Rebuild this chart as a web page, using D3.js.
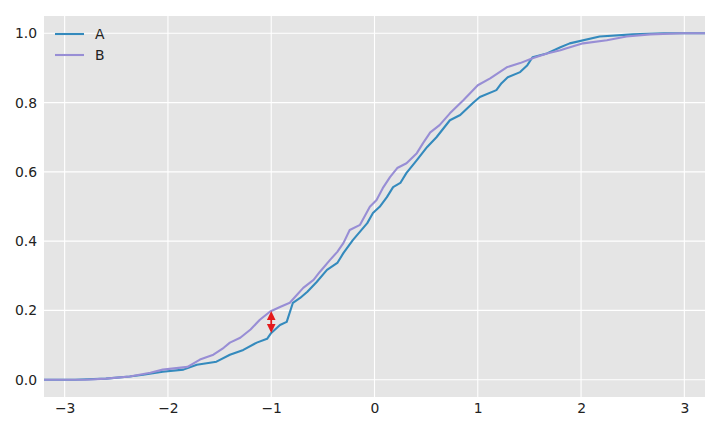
<!DOCTYPE html>
<html>
<head>
<meta charset="utf-8">
<script src="https://cdn.jsdelivr.net/npm/d3@7"></script>
<style>
html,body{margin:0;padding:0;background:#fff;}
svg{display:block;font-family:"DejaVu Sans",sans-serif;}
</style>
</head>
<body>
<svg id="chart" width="720" height="432"></svg>
<script>
// ---- data ----
const seriesNames = ["A", "B"];
const xA = [-3.2,-2.9,-2.6,-2.37,-2.24,-2.05,-1.85,-1.72,-1.53,-1.40,-1.27,-1.14,-1.04,-1.0,-0.915,-0.85,-0.79,-0.72,-0.65,-0.56,-0.46,-0.36,-0.30,-0.21,-0.07,-0.015,0.05,0.12,0.18,0.25,0.31,0.41,0.51,0.60,0.73,0.83,0.95,1.02,1.18,1.23,1.29,1.41,1.48,1.53,1.67,1.80,1.89,2.18,2.50,2.8,3.2];
const yA = [0,0,0.003,0.009,0.014,0.023,0.029,0.043,0.052,0.072,0.086,0.107,0.118,0.135,0.158,0.167,0.222,0.236,0.254,0.282,0.317,0.337,0.366,0.403,0.452,0.481,0.499,0.527,0.556,0.568,0.597,0.634,0.672,0.700,0.749,0.764,0.798,0.816,0.836,0.856,0.873,0.888,0.908,0.931,0.942,0.960,0.971,0.991,0.997,1.0,1.0];
const xB = [-3.2,-2.8,-2.6,-2.37,-2.17,-2.05,-1.81,-1.69,-1.56,-1.46,-1.40,-1.30,-1.20,-1.11,-1.01,-0.915,-0.82,-0.75,-0.69,-0.59,-0.53,-0.43,-0.36,-0.30,-0.24,-0.14,-0.045,0.02,0.08,0.15,0.22,0.31,0.41,0.47,0.54,0.63,0.73,0.86,1.00,1.12,1.28,1.41,1.53,1.67,1.80,1.86,2.02,2.25,2.44,2.67,2.98,3.2];
const yB = [0,0,0.003,0.009,0.020,0.029,0.037,0.058,0.072,0.092,0.107,0.121,0.145,0.173,0.197,0.210,0.222,0.245,0.265,0.288,0.311,0.346,0.369,0.395,0.432,0.447,0.499,0.519,0.553,0.585,0.611,0.625,0.654,0.683,0.714,0.735,0.769,0.807,0.850,0.870,0.902,0.914,0.928,0.942,0.951,0.957,0.971,0.980,0.991,0.997,1.0,1.0];
const xTicks = [-3,-2,-1,0,1,2,3];
const yTicks = [0,0.2,0.4,0.6,0.8,1.0];
const arrowX = -1.0;
const arrowY = [0.135, 0.198];

// ---- layout ----
const svg = d3.select("#chart");
const L = 44, R = 705, T = 16, B = 397;
const x = d3.scaleLinear().domain([-3.2, 3.2]).range([L, R]);
const y = d3.scaleLinear().domain([-0.05, 1.05]).range([B, T]);
const colors = ["#348ABD", "#988ED5"];

svg.append("rect").attr("x", L).attr("y", T).attr("width", R - L).attr("height", B - T).attr("fill", "#E5E5E5");

// grid
svg.append("g").selectAll("line").data(xTicks).join("line")
  .attr("x1", d => x(d)).attr("x2", d => x(d)).attr("y1", T).attr("y2", B)
  .attr("stroke", "#fff").attr("stroke-width", 1.1);
svg.append("g").selectAll("line").data(yTicks).join("line")
  .attr("y1", d => y(d)).attr("y2", d => y(d)).attr("x1", L).attr("x2", R)
  .attr("stroke", "#fff").attr("stroke-width", 1.1);

// axes
const xAxis = d3.axisBottom(x).tickValues(xTicks).tickSize(0).tickPadding(6)
  .tickFormat(d => d < 0 ? "\u2212" + Math.abs(d) : String(d));
const gx = svg.append("g").attr("transform", `translate(0,${B})`).call(xAxis);
const yAxis = d3.axisLeft(y).tickValues(yTicks).tickSize(0).tickPadding(7).tickFormat(d3.format(".1f"));
const gy = svg.append("g").attr("transform", `translate(${L},0)`).call(yAxis);
[gx, gy].forEach(g => {
  g.select(".domain").remove();
  g.selectAll("text").attr("font-size", 13.9).attr("fill", "#222").attr("font-family", "DejaVu Sans");
});

// lines
const series = [xA.map((v, i) => [v, yA[i]]), xB.map((v, i) => [v, yB[i]])];
const line = d3.line().x(d => x(d[0])).y(d => y(d[1]));
svg.append("clipPath").attr("id", "clip").append("rect")
  .attr("x", L).attr("y", T).attr("width", R - L).attr("height", B - T);
series.forEach((s, i) => {
  svg.append("path").datum(s).attr("d", line).attr("fill", "none")
    .attr("stroke", colors[i]).attr("stroke-width", 2.1).attr("stroke-linejoin", "round")
    .attr("clip-path", "url(#clip)");
});

// arrow
const ax = x(arrowX), a0 = y(arrowY[0]), a1 = y(arrowY[1]);
svg.append("line").attr("x1", ax).attr("x2", ax).attr("y1", a0 - 6).attr("y2", a1 + 6)
  .attr("stroke", "#E41A1C").attr("stroke-width", 1.8);
svg.append("path").attr("d", `M${ax},${a1} L${ax-4.3},${a1+9} L${ax+4.3},${a1+9} Z`).attr("fill", "#E41A1C");
svg.append("path").attr("d", `M${ax},${a0} L${ax-4.3},${a0-9} L${ax+4.3},${a0-9} Z`).attr("fill", "#E41A1C");

// legend
seriesNames.forEach((n, i) => {
  const ly = 34 + i * 21;
  svg.append("line").attr("x1", 55).attr("x2", 84).attr("y1", ly).attr("y2", ly)
    .attr("stroke", colors[i]).attr("stroke-width", 2.1);
  svg.append("text").attr("x", 95).attr("y", ly).attr("dy", "0.36em")
    .attr("font-size", 13.9).attr("fill", "#222").text(n);
});
</script>
</body>
</html>
